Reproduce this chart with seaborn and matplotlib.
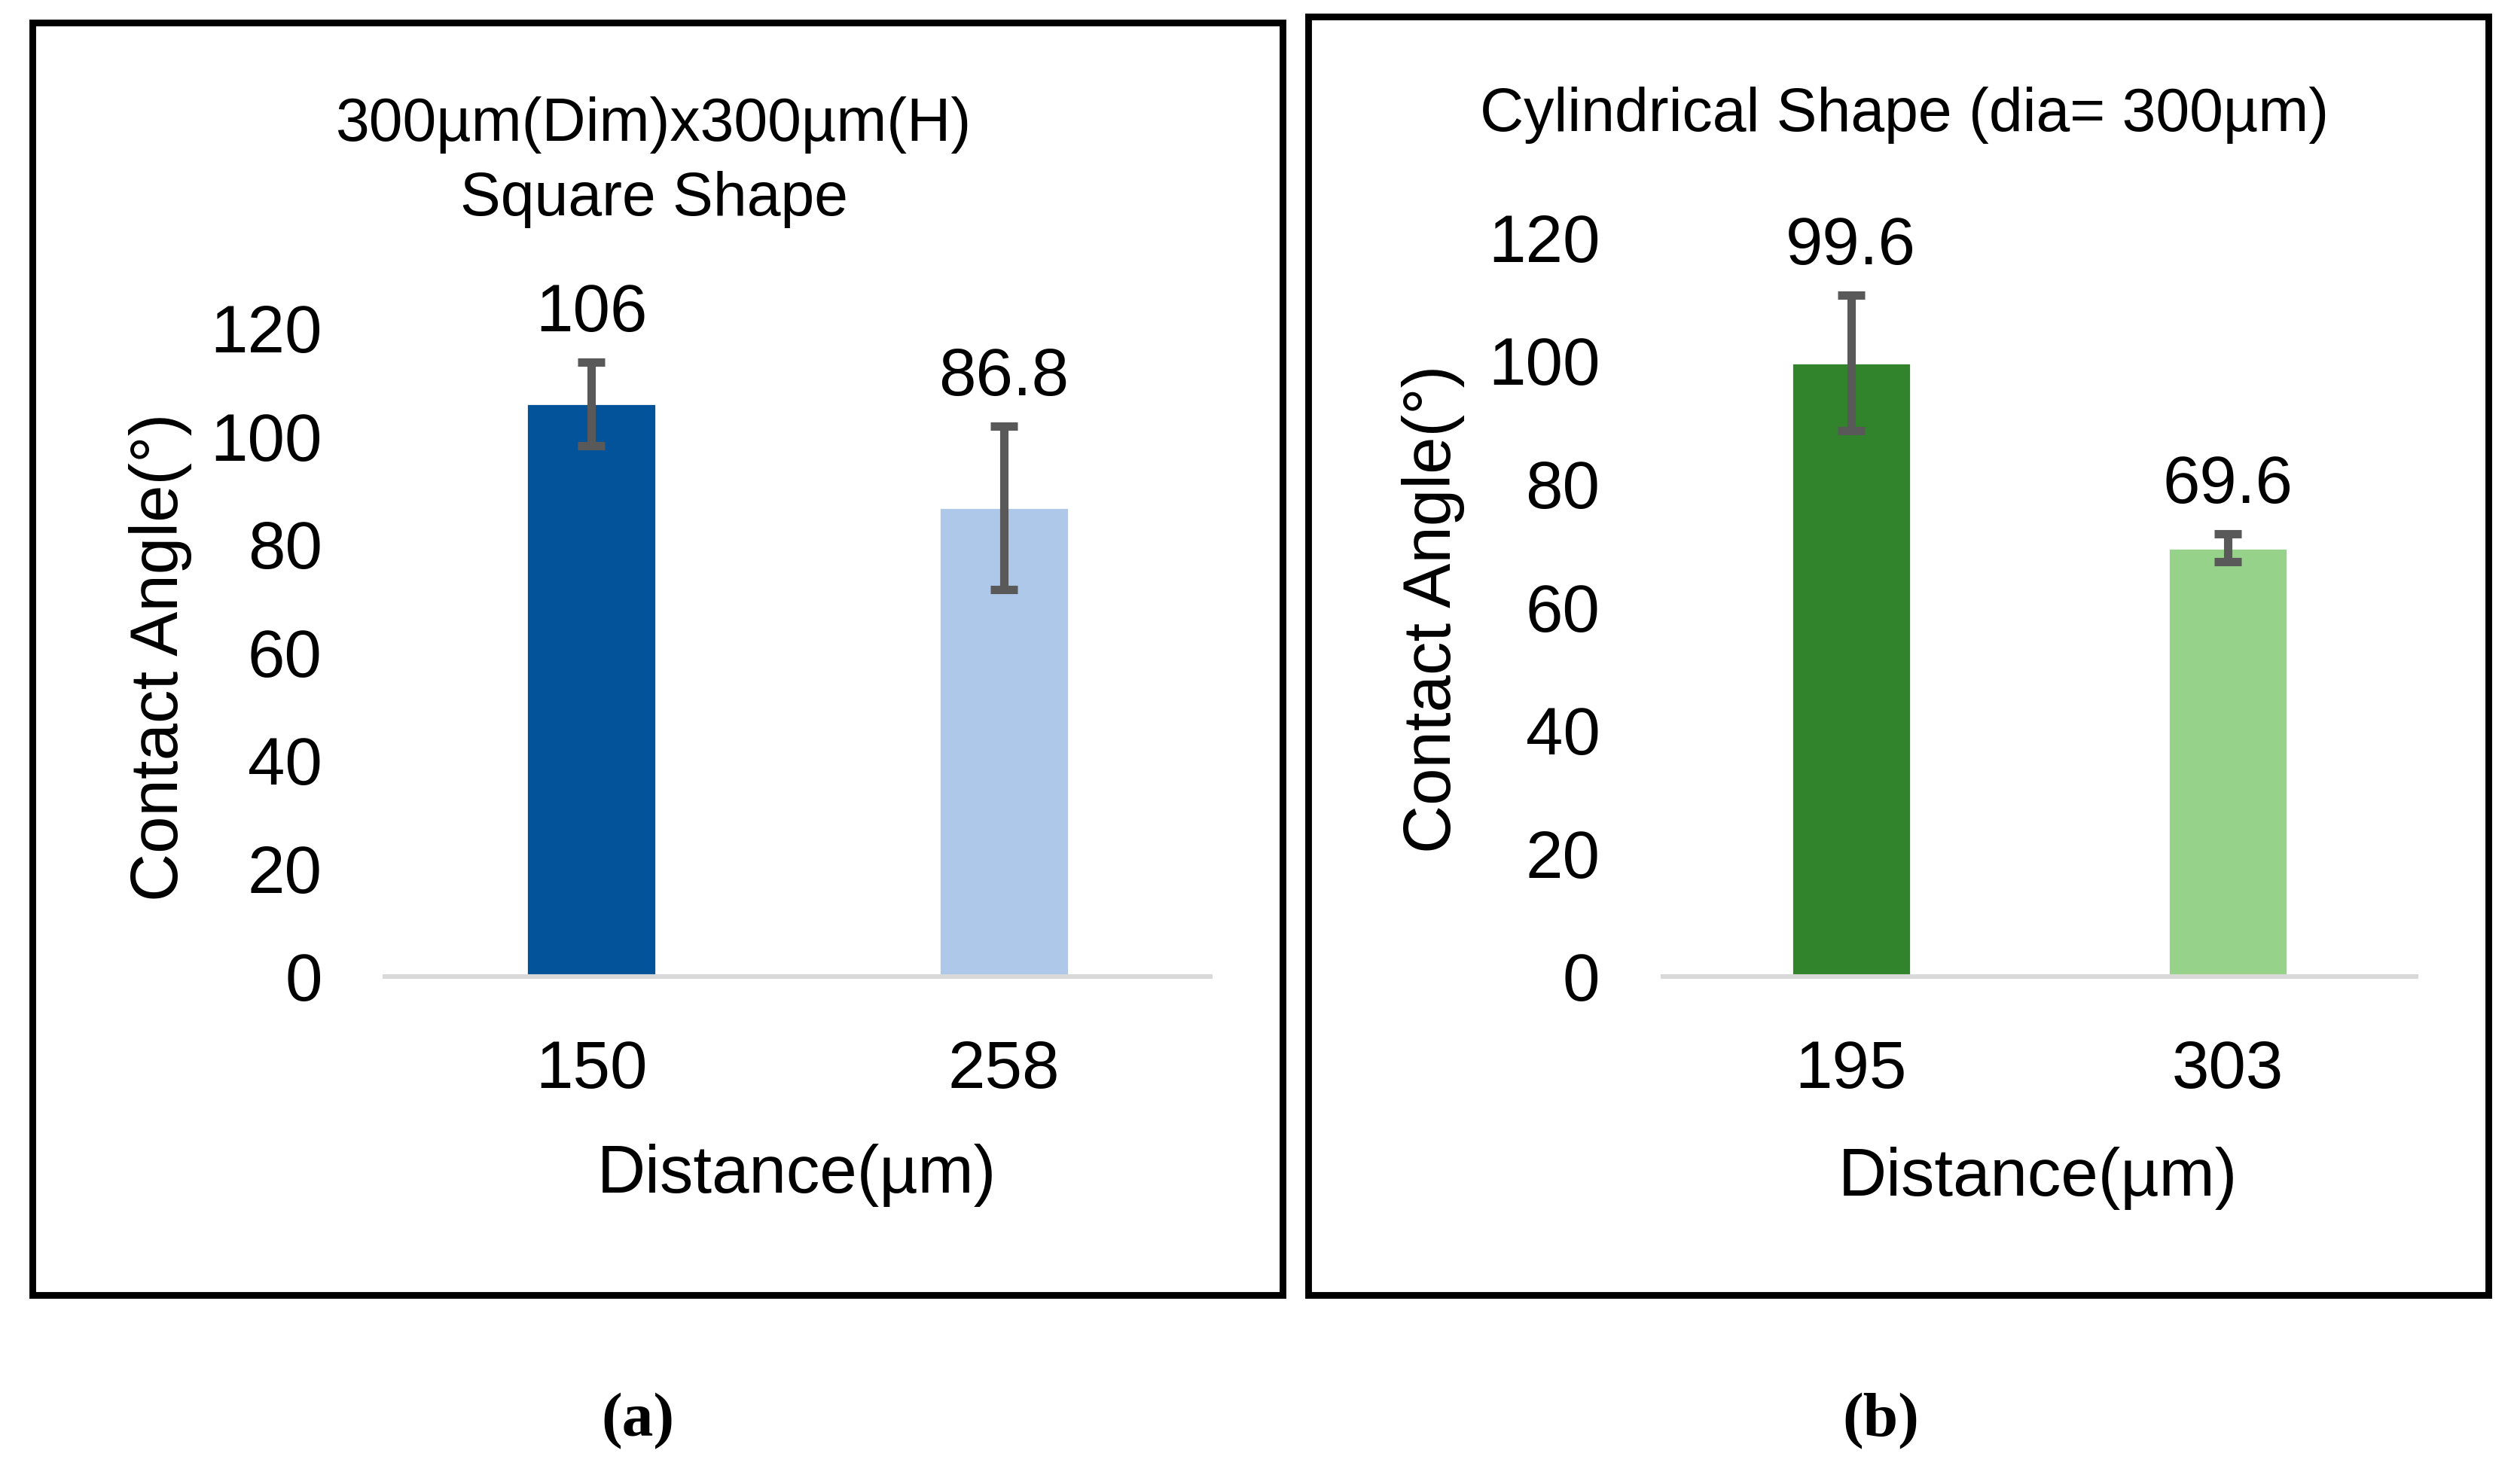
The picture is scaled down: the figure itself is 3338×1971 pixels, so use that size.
import numpy as np
import pandas as pd
import seaborn as sns
import matplotlib.pyplot as plt
from matplotlib import font_manager
from matplotlib.patches import Rectangle

# panel (a) - square pillars
dist_a = ["150", "258"]
angle_a = [106, 86.8]
err_a = [7.7, 15.1]
labels_a = ["106", "86.8"]
colors_a = ["#02539A", "#ADC8E8"]

# panel (b) - cylindrical pillars
dist_b = ["195", "303"]
angle_b = [99.6, 69.6]
err_b = [11.0, 2.3]
labels_b = ["99.6", "69.6"]
colors_b = ["#31842B", "#97D28A"]

yticks = [0, 20, 40, 60, 80, 100, 120]

sns.set_theme(style="white")
names = {f.name for f in font_manager.fontManager.ttflist}
main_font = "Liberation Sans Narrow" if "Liberation Sans Narrow" in names else "Liberation Sans"
plt.rcParams["font.family"] = [main_font, "DejaVu Sans"]
plt.rcParams["text.color"] = "black"
plt.rcParams["axes.labelcolor"] = "black"

fig = plt.figure(figsize=(16.69, 9.855), dpi=200)
ax_a = fig.add_axes([0.1531, 0.342, 0.3283, 0.4368])
ax_b = fig.add_axes([0.6614, 0.342, 0.2996, 0.498])

FS = 32


def draw_panel(ax, cats, vals, errs, labs, cols):
    df = pd.DataFrame({"dist": cats, "angle": vals})
    sns.barplot(data=df, x="dist", y="angle", hue="dist", palette=cols,
                width=0.315, legend=False, ax=ax, saturation=1)
    ax.errorbar(range(len(vals)), vals, yerr=errs, fmt="none", ecolor="#595959",
                elinewidth=4, capsize=6.5, capthick=4, zorder=5)
    for i, (v, e, t) in enumerate(zip(vals, errs, labs)):
        ax.annotate(t, (i, v + e), xytext=(0, 23), textcoords="offset points",
                    ha="center", va="center", fontsize=FS, color="black")
    ax.set_ylim(0, 120)
    ax.set_xlim(-0.5, 1.5)
    ax.set_yticks(yticks)
    for s in ["top", "right", "left"]:
        ax.spines[s].set_visible(False)
    ax.spines["bottom"].set_color("#D9D9D9")
    ax.spines["bottom"].set_linewidth(2.2)
    ax.tick_params(axis="both", length=0, labelsize=FS, colors="black")
    ax.tick_params(axis="x", pad=30)
    ax.tick_params(axis="y", pad=30)
    ax.set_xlabel("Distance(µm)", fontsize=FS)
    ax.set_ylabel("Contact Angle(°)", fontsize=FS)
    ax.yaxis.label.set_va("center")
    ax.xaxis.label.set_va("center")
    ax.grid(False)


draw_panel(ax_a, dist_a, angle_a, err_a, labels_a, colors_a)
draw_panel(ax_b, dist_b, angle_b, err_b, labels_b, colors_b)

ax_a.xaxis.set_label_coords(0.499, -0.307)
ax_a.yaxis.set_label_coords(-0.272, 0.493)
ax_b.xaxis.set_label_coords(0.498, -0.273)
ax_b.yaxis.set_label_coords(-0.305, 0.497)

ax_a.text(0.326, 1.256, "300µm(Dim)x300µm(H)\nSquare Shape", transform=ax_a.transAxes,
          ha="center", va="center", fontsize=29, linespacing=1.4, color="black")
ax_b.text(0.321, 1.165, "Cylindrical Shape (dia= 300µm)", transform=ax_b.transAxes,
          ha="center", va="center", fontsize=29, color="black")

# black frames around each panel
fig.patches.append(Rectangle((0.0128, 0.1272), 0.4974, 0.8578, transform=fig.transFigure,
                             fill=False, edgecolor="black", linewidth=3.2))
fig.patches.append(Rectangle((0.5204, 0.1272), 0.4694, 0.8618, transform=fig.transFigure,
                             fill=False, edgecolor="black", linewidth=3.2))

fig.text(0.2538, 0.042, "(a)", ha="center", va="center", fontsize=30, color="black",
         family=["Liberation Serif", "DejaVu Serif"], fontweight="bold")
fig.text(0.748, 0.042, "(b)", ha="center", va="center", fontsize=30, color="black",
         family=["Liberation Serif", "DejaVu Serif"], fontweight="bold")

fig.savefig("out.png", dpi=200, facecolor="white")
